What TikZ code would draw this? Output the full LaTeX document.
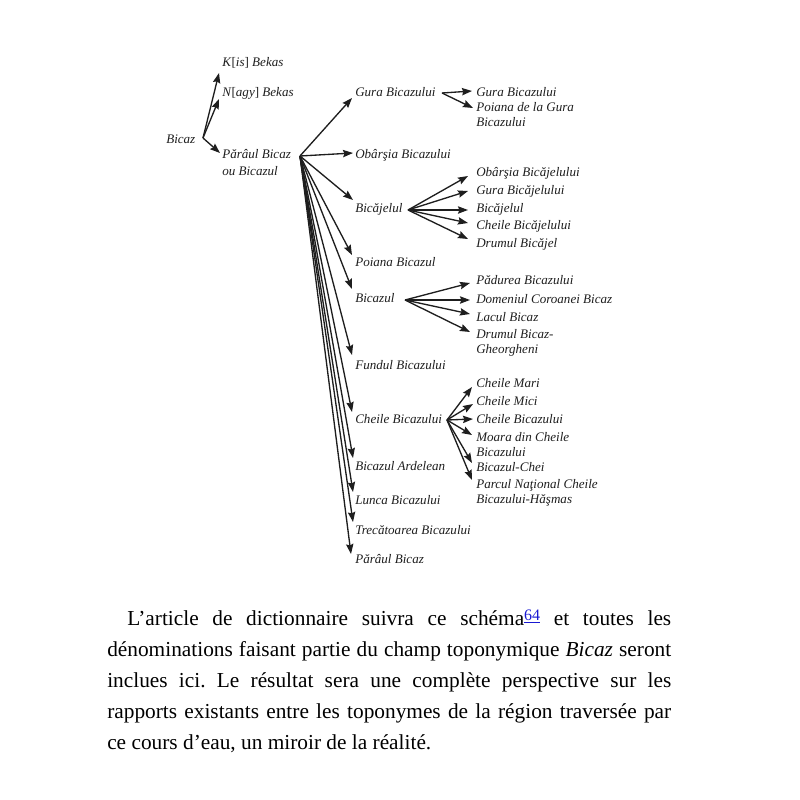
\documentclass[tikz,border=0pt]{standalone}
\usepackage{fontspec}
\setmainfont{Liberation Serif}
\usetikzlibrary{arrows.meta}
\definecolor{linkblue}{RGB}{25,25,210}
\definecolor{ink}{RGB}{30,30,30}
\begin{document}
\begin{tikzpicture}[x=0.75pt,y=-0.75pt,
  lbl/.style={font=\fontsize{9.8}{11.25}\selectfont\itshape, inner sep=0pt, anchor=base west, align=left, text=ink},
  arr/.style={-{Stealth[length=7.5pt,width=5.5pt,inset=1pt]}, line width=1pt, draw=ink},
]
\useasboundingbox (0,0) rectangle (800,800);
% level 0 and 1
\node[lbl] (b0) at (166,143) {Bicaz};
\node[lbl] (kb) at (222,66) {K\textup{[}is\textup{]} Bekas};
\node[lbl] (nb) at (222,96) {N\textup{[}agy\textup{]} Bekas};
\node[lbl, font=\fontsize{9.8}{12.75}\selectfont\itshape] (pb) at (222,175) {Părâul Bicaz\\ou Bicazul};
\coordinate (o0) at (203,138);
\draw[arr] (o0) -- ([shift={(-3,7)}]kb.base west);
\draw[arr] (o0) -- ([shift={(-3,3)}]nb.base west);
\draw[arr] (o0) -- ([shift={(-2,-22)}]pb.base west);
% level 2
\node[lbl] (m1) at (355,96) {Gura Bicazului};
\node[lbl] (m2) at (355,158) {Obârşia Bicazului};
\node[lbl] (m3) at (355,212) {Bicăjelul};
\node[lbl] (m4) at (355,266) {Poiana Bicazul};
\node[lbl] (m5) at (355,302) {Bicazul};
\node[lbl] (m6) at (355,369) {Fundul Bicazului};
\node[lbl] (m7) at (355,423) {Cheile Bicazului};
\node[lbl] (m8) at (355,470) {Bicazul Ardelean};
\node[lbl] (m9) at (355,504) {Lunca Bicazului};
\node[lbl] (m10) at (355,534) {Trecătoarea Bicazului};
\node[lbl] (m11) at (355,563) {Părâul Bicaz};
\coordinate (o1) at (300,156);
\draw[arr] (o1) -- ([shift={(-3,2)}]m1.base west);
\draw[arr] (o1) -- ([shift={(-2,-5)}]m2.base west);
\draw[arr] (o1) -- ([shift={(-2,-12)}]m3.base west);
\draw[arr] (o1) -- ([shift={(-3,-11)}]m4.base west);
\draw[arr] (o1) -- ([shift={(-3,-13)}]m5.base west);
\draw[arr] (o1) -- ([shift={(-3,-14)}]m6.base west);
\draw[arr] (o1) -- ([shift={(-3,-11)}]m7.base west);
\draw[arr] (o1) -- ([shift={(-2,-12)}]m8.base west);
\draw[arr] (o1) -- ([shift={(-2,-12)}]m9.base west);
\draw[arr] (o1) -- ([shift={(-2,-12)}]m10.base west);
\draw[arr] (o1) -- ([shift={(-4,-9)}]m11.base west);
% level 3 : Gura Bicazului
\node[lbl] (r1) at (476,96) {Gura Bicazului};
\node[lbl] (r2) at (476,126) {Poiana de la Gura\\Bicazului};
\coordinate (o2) at (442,93);
\draw[arr] (o2) -- ([shift={(-4,-5)}]r1.base west);
\draw[arr] (o2) -- ([shift={(-3,-18)}]r2.base west);
% Bicajelul
\node[lbl] (r3) at (476,176) {Obârşia Bicăjelului};
\node[lbl] (r4) at (476,194) {Gura Bicăjelului};
\node[lbl] (r5) at (476,212) {Bicăjelul};
\node[lbl] (r6) at (476,229) {Cheile Bicăjelului};
\node[lbl] (r7) at (476,247) {Drumul Bicăjel};
\coordinate (o3) at (408,210);
\draw[arr] (o3) -- ([shift={(-8,0)}]r3.base west);
\draw[arr] (o3) -- ([shift={(-8,-3)}]r4.base west);
\draw[arr] (o3) -- ([shift={(-8,-2)}]r5.base west);
\draw[arr] (o3) -- ([shift={(-8,-6)}]r6.base west);
\draw[arr] (o3) -- ([shift={(-8,-8)}]r7.base west);
% Bicazul
\node[lbl] (r8) at (476,284) {Pădurea Bicazului};
\node[lbl] (r9) at (476,303) {Domeniul Coroanei Bicaz};
\node[lbl] (r10) at (476,321) {Lacul Bicaz};
\node[lbl] (r11) at (476,353) {Drumul Bicaz-\\Gheorgheni};
\coordinate (o4) at (405,300);
\draw[arr] (o4) -- ([shift={(-6,-1)}]r8.base west);
\draw[arr] (o4) -- ([shift={(-6,-3)}]r9.base west);
\draw[arr] (o4) -- ([shift={(-6,-7)}]r10.base west);
\draw[arr] (o4) -- ([shift={(-6,-21)}]r11.base west);
% Cheile Bicazului
\node[lbl] (r12) at (476,387) {Cheile Mari};
\node[lbl] (r13) at (476,405) {Cheile Mici};
\node[lbl] (r14) at (476,423) {Cheile Bicazului};
\node[lbl] (r15) at (476,456) {Moara din Cheile\\Bicazului};
\node[lbl] (r16) at (476,471) {Bicazul-Chei};
\node[lbl] (r17) at (476,503) {Parcul Naţional Cheile\\Bicazului-Hăşmas};
\coordinate (o5) at (447,420);
\draw[arr] (o5) -- ([shift={(-4,0)}]r12.base west);
\draw[arr] (o5) -- ([shift={(-3,-1)}]r13.base west);
\draw[arr] (o5) -- ([shift={(-3,-4)}]r14.base west);
\draw[arr] (o5) -- ([shift={(-4,-21)}]r15.base west);
\draw[arr] (o5) -- ([shift={(-4,-8)}]r16.base west);
\draw[arr] (o5) -- ([shift={(-4,-23)}]r17.base west);
% body text
\node[anchor=base west, inner sep=0pt, text width=423pt, align=justify,
  font=\fontsize{16}{23.25}\selectfont\frenchspacing] (body) at (107,625)
{\hspace*{15pt}L’article de dictionnaire suivra ce schéma\raisebox{3.5pt}{\fontsize{12}{12}\selectfont\color{linkblue}\underline{64}} et toutes les\linebreak
dénominations faisant partie du champ toponymique \textit{Bicaz} seront\linebreak
inclues ici. Le résultat sera une complète perspective sur les\linebreak
rapports existants entre les toponymes de la région traversée par\linebreak
ce cours d’eau, un miroir de la réalité.};
\end{tikzpicture}
\end{document}
